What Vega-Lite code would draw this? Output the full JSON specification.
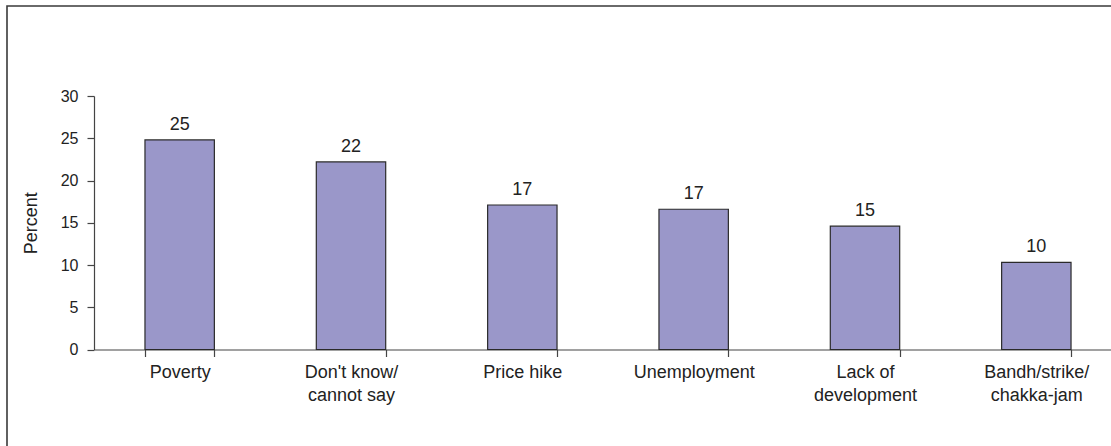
{
  "$schema": "https://vega.github.io/schema/vega-lite/v6.json",
  "width": 1200,
  "height": 500,
  "autosize": {"type": "none"},
  "padding": {"left": 7, "top": 6, "right": 0, "bottom": 0},
  "background": "white",
  "config": {
    "view": {"stroke": "#3a3a3a", "strokeWidth": 1.6},
    "font": "Liberation Sans",
    "axis": {"labelFont": "Liberation Sans", "titleFont": "Liberation Sans", "labelColor": "#222", "titleColor": "#222", "domainColor": "#444", "tickColor": "#444", "grid": false}
  },
  "data": {
    "values": [
      {"issue": "Poverty", "percent": 24.8},
      {"issue": "Don't know/\ncannot say", "percent": 22.2},
      {"issue": "Price hike", "percent": 17.1},
      {"issue": "Unemployment", "percent": 16.6},
      {"issue": "Lack of\ndevelopment", "percent": 14.6},
      {"issue": "Bandh/strike/\nchakka-jam", "percent": 10.3}
    ]
  },
  "encoding": {
    "x": {
      "field": "issue",
      "type": "nominal",
      "sort": null,
      "scale": {"range": [87, 1115], "paddingInner": 0.595, "paddingOuter": 0.2975},
      "axis": {
        "title": null,
        "orient": "bottom",
        "offset": -156.5,
        "labelAngle": 0,
        "labelFontSize": 18,
        "labelLineHeight": 23,
        "labelPadding": 7,
        "labelExpr": "isValid(datum.value) ? split(datum.value, '\\n') : ''",
        "tickBand": "extent",
        "tickSize": 7,
        "domainWidth": 1.2,
        "tickWidth": 1.2
      }
    },
    "y": {
      "field": "percent",
      "type": "quantitative",
      "scale": {"domain": [0, 30], "range": [343.5, 90], "nice": false},
      "axis": {
        "title": "Percent",
        "offset": -87,
        "values": [0, 5, 10, 15, 20, 25, 30],
        "labelFontSize": 16,
        "labelPadding": 9,
        "tickSize": 7,
        "titleFontSize": 18,
        "titleFontWeight": "normal",
        "titlePadding": 20,
        "domainWidth": 1.2,
        "tickWidth": 1.2
      }
    }
  },
  "layer": [
    {
      "mark": {"type": "bar", "fill": "#9a97c9", "stroke": "#2a2a2a", "strokeWidth": 1.2}
    },
    {
      "mark": {"type": "text", "fontSize": 18, "color": "#222", "baseline": "alphabetic", "dy": -10},
      "encoding": {
        "text": {"field": "percent", "type": "quantitative", "format": ".0f"}
      }
    }
  ]
}
